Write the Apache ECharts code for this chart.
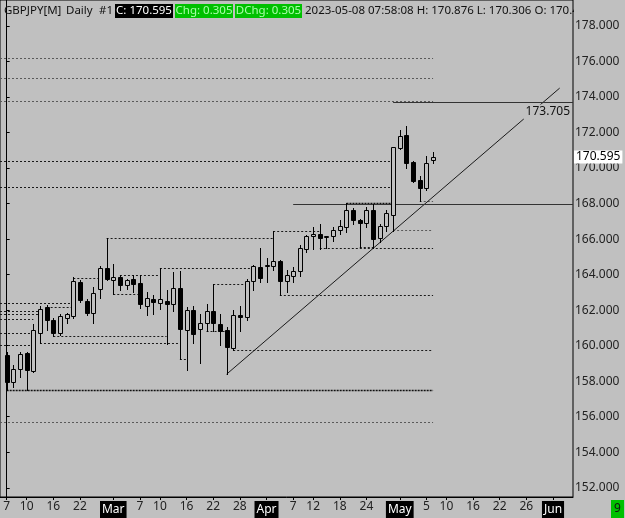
<!DOCTYPE html>
<html><head><meta charset="utf-8">
<script src="https://cdn.jsdelivr.net/npm/echarts@6/dist/echarts.min.js"></script>
<style>html,body{margin:0;padding:0;background:#c0c0c0;}#c{width:625px;height:518px;}</style>
</head><body><div id="c"></div>
<script>
// ---- data ----
const candleDates = ['2023-02-07','2023-02-08','2023-02-09','2023-02-10','2023-02-13','2023-02-14','2023-02-15','2023-02-16','2023-02-17','2023-02-20','2023-02-21','2023-02-22','2023-02-23','2023-02-24','2023-02-27','2023-02-28',
'2023-03-01','2023-03-02','2023-03-03','2023-03-06','2023-03-07','2023-03-08','2023-03-09','2023-03-10','2023-03-13','2023-03-14','2023-03-15','2023-03-16','2023-03-17','2023-03-20','2023-03-21','2023-03-22','2023-03-23','2023-03-24','2023-03-27','2023-03-28','2023-03-29','2023-03-30','2023-03-31',
'2023-04-03','2023-04-04','2023-04-05','2023-04-06','2023-04-07','2023-04-10','2023-04-11','2023-04-12','2023-04-13','2023-04-14','2023-04-17','2023-04-18','2023-04-19','2023-04-20','2023-04-21','2023-04-24','2023-04-25','2023-04-26','2023-04-27','2023-04-28',
'2023-05-01','2023-05-02','2023-05-03','2023-05-04','2023-05-05','2023-05-08'];
const opens  = [159.50,157.96,158.66,159.56,158.56,160.71,162.17,161.47,160.71,161.53,161.67,163.58,162.50,161.86,163.17,164.37,163.69,163.86,163.43,163.77,163.54,162.21,162.64,162.42,162.49,162.37,163.26,160.88,161.99,160.96,161.30,161.96,161.24,160.90,159.89,161.71,161.61,163.64,164.42,164.50,164.46,164.74,163.64,163.91,164.20,165.45,166.15,166.26,166.13,166.15,166.52,166.67,167.65,167.10,166.90,167.66,166.07,166.71,167.33,171.13,171.88,170.32,169.31,168.88,170.45];
const closes = [157.96,158.66,159.52,158.62,160.87,162.08,161.47,160.71,161.65,161.76,163.62,162.55,161.86,162.99,164.37,163.75,163.88,163.43,163.68,163.49,162.33,162.70,162.46,162.64,162.37,163.24,160.92,161.99,160.64,161.30,161.96,161.28,160.82,159.93,161.74,161.61,163.64,164.46,163.82,164.53,164.74,163.64,163.96,164.18,165.51,166.16,166.30,166.05,166.15,166.52,166.71,167.65,167.08,166.92,167.66,166.02,166.71,167.48,171.17,171.82,170.29,169.25,168.88,170.29,170.595];
const lows   = [157.53,157.68,158.24,157.53,158.52,160.15,160.90,160.53,160.58,161.28,161.53,162.46,161.71,161.28,162.68,163.72,162.93,163.12,163.18,163.03,162.14,161.75,161.80,162.08,160.12,161.96,159.27,158.65,160.15,159.03,160.82,160.82,160.02,158.39,159.74,160.81,161.47,163.11,163.58,163.58,164.27,162.83,163.02,163.58,163.91,165.27,165.45,165.45,165.49,165.87,166.30,166.39,166.86,165.54,166.67,165.51,165.83,166.48,166.48,171.07,170.01,169.20,168.13,168.77,170.306];
const highs  = [159.65,158.90,159.65,159.65,161.24,162.21,162.27,161.58,161.76,161.84,163.86,163.68,162.64,163.30,164.46,166.07,164.61,164.00,163.75,163.96,163.96,163.03,162.83,164.35,163.11,164.14,164.20,162.17,162.21,161.80,162.33,163.45,161.80,161.05,161.99,162.21,163.77,164.52,165.51,164.95,166.48,164.80,164.24,164.42,165.64,166.24,166.67,166.86,166.19,166.67,167.08,168.02,167.74,167.14,167.79,167.98,166.86,167.61,171.20,172.14,172.38,170.40,169.57,170.68,170.876];

// x-axis labels (bar index -> text)
const xTickIdx  = [0,3,7,11,16,20,23,27,31,35,39,43,46,50,54,59,63,66,70,74,78,82];
const xTickText = ['7','10','16','22','Mar','7','10','16','22','28','Apr','7','12','18','24','May','5','10','16','22','26','Jun'];
const monthNames = ['Mar','Apr','May','Jun'];
const yTicks = [152,154,156,158,160,162,164,166,168,170,172,174,176,178];

// dotted level lines: value, start bar, end bar, kind (0 dark,1 bold,2 gray)
const levelValues = [176.22,175.08,173.79,170.42,168.92,168.02,166.52,166.48,165.49,166.07,164.00,164.35,163.81,162.93,162.42,162.17,161.93,161.80,161.52,160.73,160.53,160.15,160.02,157.53,155.68,163.45,162.85,160.85,159.74,159.27,168.15,165.54];
const levelStart  = [-1,-1,-1,-1,-1,51,58,40,47,15,17,23,10,16,-1,6,-1,-1,-1,-1,7,5,-1,0,-1,31,41,30,34,26,62,53];
const levelEnd    = [64,64,64,58,58,58,64,47,64,40,23,37,14,20,10,10,5,5,4,4,24,26,4,64,64,36,64,33,64,27,64,55];
const levelKind   = [2,2,2,0,0,1,2,0,0,0,0,0,0,0,0,0,0,0,0,0,0,0,0,1,2,0,0,0,0,0,2,0];

// solid horizontal lines and trend line
const hLineValues = [173.705, 168.000];
const hLineStart  = [58, 43];
const hLineLabel  = ['173.705', ''];
const trendStart = [33, 158.39];
const trendEnd   = [83, 174.50];
const lastPrice = 170.595;

// ---- chart ----
const BG = '#c0c0c0';
const FONT = 'Noto Sans';
const HF = '11.5px ' + FONT;
const chart = echarts.init(document.getElementById('c'), null, {renderer:'canvas'});

const candleData = candleDates.map((d,i)=>[i, opens[i], closes[i], lows[i], highs[i]]);
const levelData = levelValues.map((v,i)=>[levelStart[i], v, levelEnd[i], levelKind[i]]);
const hData = hLineValues.map((v,i)=>[hLineStart[i], v, i]);

function renderCandle(params, api){
  const i=api.value(0), o=api.value(1), c=api.value(2), l=api.value(3), h=api.value(4);
  const pO=api.coord([i,o]), pC=api.coord([i,c]), pL=api.coord([i,l]), pH=api.coord([i,h]);
  const cx=Math.round(pO[0]);
  const top=Math.round(Math.min(pO[1],pC[1])), bot=Math.round(Math.max(pO[1],pC[1]));
  const bull=c>=o;
  return {type:'group', children:[
    {type:'line', shape:{x1:cx+0.5,y1:Math.round(pH[1]),x2:cx+0.5,y2:Math.round(pL[1])+1}, style:{stroke:'#000',lineWidth:1}},
    {type:'rect', shape:{x:cx-2+0.5,y:top+0.5,width:4,height:Math.max(bot-top,1)}, style:{fill:bull?BG:'#000',stroke:'#000',lineWidth:1}}
  ]};
}
function renderLevel(params, api){
  const s=api.coord([api.value(0),api.value(1)]);
  const e=api.coord([api.value(2),api.value(1)]);
  const k=api.value(3);
  const y=Math.round(s[1])+0.5;
  const st = k===1 ? {stroke:'#101010',lineWidth:1.6,lineDash:[2,1]} : (k===2 ? {stroke:'#5a5a5a',lineWidth:1,lineDash:[2,2]} : {stroke:'#1a1a1a',lineWidth:1,lineDash:[2,2]});
  return {type:'line', shape:{x1:s[0],y1:y,x2:e[0],y2:y}, style:st};
}
function renderHLine(params, api){
  const cs=params.coordSys;
  const s=api.coord([api.value(0),api.value(1)]);
  const y=Math.round(s[1])+0.5;
  const idx=api.value(2);
  const children=[{type:'line', shape:{x1:s[0],y1:y,x2:cs.x+cs.width,y2:y}, style:{stroke:'#333',lineWidth:1}}];
  if(hLineLabel[idx]){
    children.push({type:'text', x:cs.x+cs.width-1, y:y+2, z2:10, style:{text:hLineLabel[idx], fill:'#111', font:'12px '+FONT, align:'right', verticalAlign:'top', backgroundColor:BG, padding:[1,2,2,2]}});
  }
  return {type:'group', children};
}
function renderTrend(params, api){
  const a=api.coord([api.value(0),api.value(1)]);
  const b=api.coord([api.value(2),api.value(3)]);
  return {type:'line', shape:{x1:a[0],y1:a[1],x2:b[0],y2:b[1]}, style:{stroke:'#1a1a1a',lineWidth:1}};
}
function renderPrice(params, api){
  const cs=params.coordSys;
  const p=api.coord([api.value(0),api.value(1)]);
  return {type:'text', x:cs.x+cs.width+1, y:Math.round(p[1]), style:{text:lastPrice.toFixed(3), fill:'#000', font:'12px '+FONT, align:'left', verticalAlign:'middle', backgroundColor:'#fff', padding:[1,2,0,2]}};
}

const option = {
  backgroundColor: BG,
  animation: false,
  grid: {left:0, right:52, top:-1, bottom:21, show:true, borderColor:'#000', borderWidth:1, backgroundColor:'transparent'},
  xAxis: {
    type:'value', min:-1, max:85,
    axisLine:{show:true, lineStyle:{color:'#000'}},
    axisTick:{show:true, length:3, customValues:xTickIdx, lineStyle:{color:'#000'}},
    axisLabel:{customValues:xTickIdx, margin:4, color:'#222', fontSize:12, fontFamily:FONT,
      formatter:(v)=>{const k=xTickIdx.indexOf(Math.round(v)); if(k<0) return ''; const t=xTickText[k]; return monthNames.includes(t)?'{m|'+t+'}':t;},
      rich:{m:{backgroundColor:'#000', color:'#fff', padding:[3,2,2,2], fontSize:12, fontFamily:FONT}}},
    splitLine:{show:false}
  },
  yAxis: {
    type:'value', position:'right', min:151.48, max:179.46,
    axisLine:{show:true, lineStyle:{color:'#000'}},
    axisTick:{show:true, length:3, customValues:yTicks, lineStyle:{color:'#000'}},
    axisLabel:{customValues:yTicks, margin:2, color:'#222', fontSize:12, fontFamily:FONT, formatter:(v)=>v.toFixed(3)},
    splitLine:{show:false}
  },
  series: [
    {type:'custom', name:'levels', data:levelData, renderItem:renderLevel, encode:{x:[0,2], y:1}, clip:true, z:1, silent:true},
    {type:'custom', name:'trend', data:[[trendStart[0],trendStart[1],trendEnd[0],trendEnd[1]]], renderItem:renderTrend, encode:{x:[0,2], y:[1,3]}, clip:true, z:2, silent:true},
    {type:'custom', name:'hlines', data:hData, renderItem:renderHLine, encode:{x:0, y:1}, clip:true, z:3, silent:true},
    {type:'custom', name:'GBPJPY', data:candleData, renderItem:renderCandle, encode:{x:0, y:[1,2,3,4]}, clip:true, z:4, silent:true},
    {type:'custom', name:'price', data:[[64,lastPrice]], renderItem:renderPrice, encode:{x:0, y:1}, clip:false, z:5, silent:true}
  ],
  graphic: [
    {type:'text', x:4, y:11, z:100, style:{text:'GBPJPY[M]', fill:'#111', font:HF, verticalAlign:'middle'}},
    {type:'text', x:66, y:11, z:100, style:{text:'Daily', fill:'#111', font:HF, verticalAlign:'middle'}},
    {type:'text', x:99, y:11, z:100, style:{text:'#1', fill:'#111', font:HF, verticalAlign:'middle'}},
    {type:'rect', z:100, shape:{x:115, y:4, width:58, height:14}, style:{fill:'#000'}},
    {type:'text', x:144, y:11, z:101, style:{text:'C: '+lastPrice.toFixed(3), fill:'#fff', font:HF, align:'center', verticalAlign:'middle'}},
    {type:'rect', z:100, shape:{x:175, y:4, width:58, height:14}, style:{fill:'#00c000'}},
    {type:'text', x:204, y:11, z:101, style:{text:'Chg: 0.305', fill:'#a8ffa8', font:HF, align:'center', verticalAlign:'middle'}},
    {type:'rect', z:100, shape:{x:235, y:4, width:67, height:14}, style:{fill:'#00c000'}},
    {type:'text', x:268.5, y:11, z:101, style:{text:'DChg: 0.305', fill:'#a8ffa8', font:HF, align:'center', verticalAlign:'middle'}},
    {type:'text', x:305, y:11, z:100, style:{text:'2023-05-08 07:58:08 H: 170.876 L: 170.306 O: 170.450', fill:'#111', font:HF, verticalAlign:'middle'}},
    {type:'rect', z:102, shape:{x:574, y:0, width:51, height:19}, style:{fill:BG}},
    {type:'rect', z:100, shape:{x:611, y:500, width:13, height:18}, style:{fill:'#00c000'}},
    {type:'text', x:617.5, y:509, z:101, style:{text:'9', fill:'#111', font:'12px '+FONT, align:'center', verticalAlign:'middle'}}
  ]
};
chart.setOption(option);
</script></body></html>
